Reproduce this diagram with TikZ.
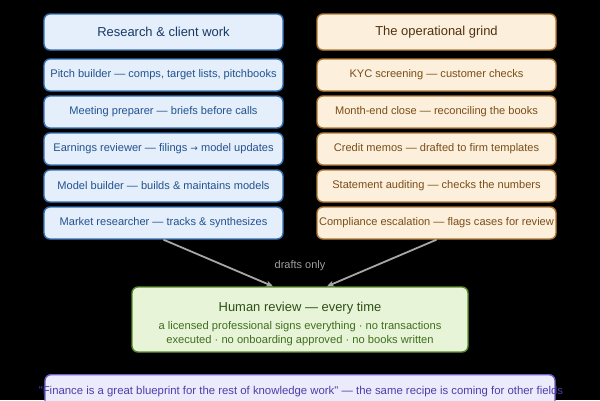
\documentclass[tikz,border=0pt]{standalone}
\usepackage{fontspec}
\setmainfont{Liberation Sans}
\newfontfamily\arrowfont{DejaVu Sans}
\usepackage{xcolor}
\usetikzlibrary{arrows.meta}
\definecolor{bluefill}{HTML}{E4EFFB}
\definecolor{blueline}{HTML}{3572B8}
\definecolor{bluetext}{HTML}{24528F}
\definecolor{bluehead}{HTML}{173A66}
\definecolor{tanfill}{HTML}{FCEFDC}
\definecolor{tanline}{HTML}{B27A33}
\definecolor{tantext}{HTML}{7A4E19}
\definecolor{tanhead}{HTML}{4F3210}
\definecolor{greenfill}{HTML}{E8F4D8}
\definecolor{greenline}{HTML}{5B8C2C}
\definecolor{greentext}{HTML}{3F6E1F}
\definecolor{greenhead}{HTML}{2D4F16}
\definecolor{violetfill}{HTML}{ECEBFC}
\definecolor{violetline}{HTML}{6C60CB}
\definecolor{violettext}{HTML}{4A3FA8}

\begin{document}
\begin{tikzpicture}[x=1bp,y=-1bp,
  box/.style={rounded corners=6bp, line width=1.4bp, inner sep=0pt, minimum width=239bp},
  leftitem/.style={box, draw=blueline, fill=bluefill, text=bluetext, minimum height=32bp, font=\fontsize{11.1}{13}\selectfont},
  lefthead/.style={leftitem, minimum height=36bp, text=bluehead, font=\fontsize{13}{15}\selectfont},
  rightitem/.style={box, draw=tanline, fill=tanfill, text=tantext, minimum height=32bp, font=\fontsize{11.1}{13}\selectfont},
  righthead/.style={rightitem, minimum height=36bp, text=tanhead, font=\fontsize{13}{15}\selectfont},
  feed/.style={draw=gray!70, line width=1.8bp, -{Stealth[length=7bp,width=6bp]}}]
        \clip (0,0) rectangle (600,400);
        \fill[black] (0,0) rectangle (600,400);
        \node[lefthead](res) at (163.5,32) {Research \& client work};
        \node[leftitem](res1) at (163.5,75) {Pitch builder — comps, target lists, pitchbooks};
        \node[leftitem](res2) at (163.5,112) {Meeting preparer — briefs before calls};
        \node[leftitem](res3) at (163.5,149) {Earnings reviewer — filings {\arrowfont\fontsize{9}{11}\selectfont →} model updates};
        \node[leftitem](res4) at (163.5,186) {Model builder — builds \& maintains models};
        \node[leftitem](res5) at (163.5,223) {Market researcher — tracks \& synthesizes};
        \node[righthead](ops) at (436.5,32) {The operational grind};
        \node[rightitem](ops1) at (436.5,75) {KYC screening — customer checks};
        \node[rightitem](ops2) at (436.5,112) {Month-end close — reconciling the books};
        \node[rightitem](ops3) at (436.5,149) {Credit memos — drafted to firm templates};
        \node[rightitem](ops4) at (436.5,186) {Statement auditing — checks the numbers};
        \node[rightitem](ops5) at (436.5,223) {Compliance escalation — flags cases for review};
        \node[box, draw=greenline, fill=greenfill, minimum width=336bp, minimum height=65bp](review) at (300,319.5) {};
        \node[text=greenhead, font=\fontsize{13}{15}\selectfont](reviewtitle) at (300,308) {Human review — every time};
        \node[text=greentext, align=center, font=\fontsize{11.2}{14.5}\selectfont](reviewnote) at (300,333.5) {a licensed professional signs everything · no transactions\\executed · no onboarding approved · no books written};
        \node[text=gray!75, font=\fontsize{11}{13}\selectfont](drafts) at (300,266) {drafts only};
        \draw[feed](res5.south)--([xshift=-27bp]review.north);
        \draw[feed](ops5.south)--([xshift=27bp]review.north);
        \node[box, draw=violetline, fill=violetfill, minimum width=510bp, minimum height=50bp, anchor=north](quote) at (300,374) {};
        \node[text=violettext, font=\fontsize{11.4}{13}\selectfont](quotetext) at (301,392) {\textquotedbl Finance is a great blueprint for the rest of knowledge work\textquotedbl{} — the same recipe is coming for other fields};
        \end{tikzpicture}
\end{document}
